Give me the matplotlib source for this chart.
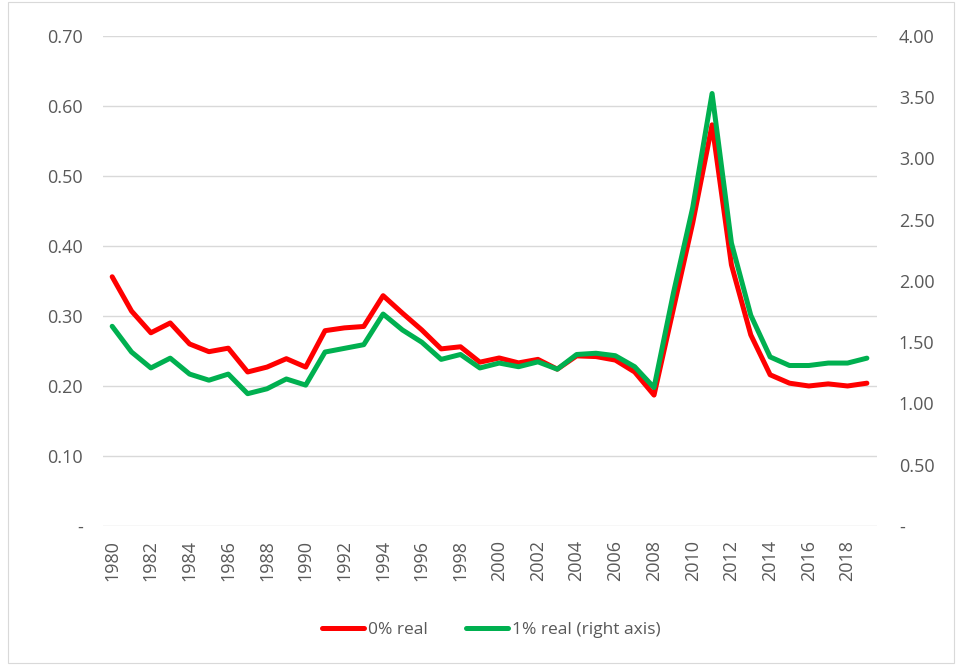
import matplotlib

matplotlib.use("Agg")
import matplotlib.pyplot as plt
from matplotlib.patches import Rectangle
from matplotlib.ticker import FixedLocator, FuncFormatter

years = list(range(1980, 2020))
real_0pct = [
    0.356, 0.307, 0.276, 0.290, 0.260, 0.249, 0.254, 0.220, 0.227, 0.239,
    0.227, 0.279, 0.283, 0.285, 0.329, 0.304, 0.280, 0.253, 0.256, 0.234,
    0.240, 0.233, 0.238, 0.224, 0.243, 0.242, 0.237, 0.220, 0.187, 0.310,
    0.433, 0.573, 0.373, 0.273, 0.216, 0.204, 0.200, 0.203, 0.200, 0.204,
]
real_1pct = [
    1.63, 1.42, 1.29, 1.37, 1.24, 1.19, 1.24, 1.08, 1.12, 1.20,
    1.15, 1.42, 1.45, 1.48, 1.73, 1.60, 1.50, 1.36, 1.40, 1.29,
    1.33, 1.30, 1.34, 1.28, 1.40, 1.41, 1.39, 1.30, 1.13, 1.90,
    2.60, 3.53, 2.31, 1.72, 1.38, 1.31, 1.31, 1.33, 1.33, 1.37,
]
left_ticks = [0.0, 0.1, 0.2, 0.3, 0.4, 0.5, 0.6, 0.7]
right_ticks = [0.0, 0.5, 1.0, 1.5, 2.0, 2.5, 3.0, 3.5, 4.0]
year_ticks = list(range(1980, 2019, 2))

RED = "#FF0000"
GREEN = "#00B050"
TEXT = "#595959"
plt.rcParams["font.family"] = ["Open Sans", "DejaVu Sans"]


def dash_zero(v, pos):
    return "-" if abs(v) < 1e-9 else f"{v:.2f}"


fig = plt.figure(figsize=(9.58, 6.65), dpi=100)
fig.patches.append(Rectangle((0.008, 0.003), 0.988, 0.994, transform=fig.transFigure,
                             fill=False, edgecolor="#D9D9D9", linewidth=0.8))
ax = fig.add_axes([0.107, 0.209, 0.808, 0.737])
ax2 = ax.twinx()

l1, = ax.plot(years, real_0pct, color=RED, linewidth=3.6, solid_joinstyle="round",
              solid_capstyle="round", label="0% real", zorder=3)
l2, = ax2.plot(years, real_1pct, color=GREEN, linewidth=3.6, solid_joinstyle="round",
               solid_capstyle="round", label="1% real (right axis)", zorder=3)

ax.set_xlim(1979.5, 2019.5)
ax.set_ylim(0, 0.7)
ax2.set_ylim(0, 4.0)
ax.yaxis.set_major_locator(FixedLocator(left_ticks))
ax2.yaxis.set_major_locator(FixedLocator(right_ticks))
ax.yaxis.set_major_formatter(FuncFormatter(dash_zero))
ax2.yaxis.set_major_formatter(FuncFormatter(dash_zero))
ax.set_xticks(year_ticks)
ax.set_xticklabels([str(y) for y in year_ticks], rotation=90)

ax.grid(axis="y", color="#D9D9D9", linewidth=1.0)
ax.set_axisbelow(True)
for a in (ax, ax2):
    for s in a.spines.values():
        s.set_visible(False)
    a.tick_params(length=0, labelsize=13, colors=TEXT)
ax.tick_params(axis="y", pad=14)
ax2.tick_params(axis="y", pad=16)
ax.tick_params(axis="x", pad=10)

fig.legend(handles=[l1, l2], loc="center", bbox_to_anchor=(0.513, 0.052), ncol=2,
           frameon=False, fontsize=12.5, labelcolor=TEXT, handlelength=2.4,
           handletextpad=0.25, columnspacing=2.2)

fig.savefig("out.png", dpi=100)
